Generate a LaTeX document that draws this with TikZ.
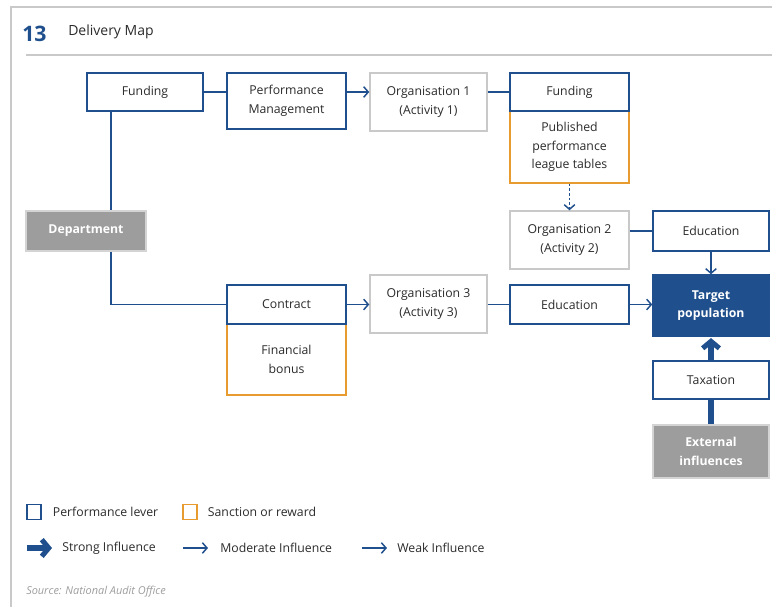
\documentclass[tikz,border=0pt]{standalone}
\usepackage{fontspec}
\setmainfont{Open Sans}
\usetikzlibrary{arrows.meta, calc, positioning}

\definecolor{nao blue}{HTML}{1F4F8C}
\definecolor{nao orange}{HTML}{E89B2E}
\definecolor{nao grey}{HTML}{9D9D9D}
\definecolor{nao line}{HTML}{C9C9C9}
\definecolor{nao text}{HTML}{2B2B2B}

\tikzset{
  wh/.style 2 args={minimum width=#1*0.75pt, minimum height=#2*0.75pt},
  box/.style={draw, inner sep=0pt, align=center, text=nao text, line width=1.1pt},
  lever/.style={box, draw=nao blue, fill=white},
  reward/.style={box, draw=nao orange, fill=white},
  actor/.style={box, draw=nao line, fill=white},
  source/.style={box, draw=nao line!80, fill=nao grey, text=white, font=\fontsize{9.2}{14}\selectfont\bfseries},
  goal/.style={box, draw=nao blue, fill=nao blue, text=white, font=\fontsize{9.2}{14}\selectfont\bfseries},
  link/.style={draw=nao blue, line width=1.1pt},
  moderate/.style={link, -{Straight Barb[length=3.5pt,width=8pt]}},
  weak/.style={link, dashed, dash pattern=on 2pt off 1.5pt, -{Straight Barb[length=3.5pt,width=8pt]}},
  strong/.style={draw=nao blue, line width=3.8pt, -{Straight Barb[length=5.2pt,width=12.5pt]}},
  legtext/.style={anchor=west, inner sep=0pt, text=nao text}
}

\begin{document}
\begin{tikzpicture}[x=0.75pt, y=-0.75pt, font=\fontsize{9.2}{14}\selectfont]
    \useasboundingbox (0,0) rectangle (772,607);
    % frame and title
    \draw[nao line, line width=1.3pt] (11,607) -- (11,7) -- (772,7);
    \draw[nao line, line width=1.1pt] (26,55) -- (772,55);
    \node[anchor=west, inner sep=0pt, text=nao blue, font=\fontsize{16}{18}\selectfont\bfseries] (fignum) at (22,34) {13};
    \node[anchor=west, inner sep=0pt, text=nao text, font=\fontsize{10.5}{12}\selectfont] (figtitle) at (68,32) {Delivery Map};

    % top row
    \node[lever, wh={116}{38}] (fund1) at (145,92) {Funding};
    \node[lever, wh={119}{56}] (perf) at (286.5,101) {Performance\\Management};
    \node[actor, wh={117}{58}] (org1) at (428.5,102) {Organisation 1\\(Activity 1)};
    \node[reward, wh={119}{72}] (pub) at (569.5,147) {Published\\performance\\league tables};
    \node[lever, wh={119}{38}] (fund2) at (569.5,92) {Funding};

    % middle row
    \node[source, wh={120}{40}] (dept) at (86,231) {Department};
    \node[actor, wh={119}{58}] (org2) at (569.5,240) {Organisation 2\\(Activity 2)};
    \node[lever, wh={116}{40}] (edu1) at (711,231) {Education};

    % bottom row
    \node[reward, wh={119}{71}] (bonus) at (286.5,359.5) {Financial\\bonus};
    \node[lever, wh={119}{39}] (contract) at (286.5,304.5) {Contract};
    \node[actor, wh={117}{58}] (org3) at (428.5,304) {Organisation 3\\(Activity 3)};
    \node[lever, wh={119}{39}] (edu2) at (569.5,304.5) {Education};
    \node[goal, wh={116}{61}] (target) at (711,305.5) {Target\\population};
    \node[lever, wh={116}{38}] (tax) at (711,380) {Taxation};
    \node[source, wh={116}{53}] (ext) at (711,451.5) {External\\influences};

    \coordinate (trunk) at (111,0);

    % connectors
    \draw[link] (fund1.east) -- (fund1.east -| perf.west);
    \draw[moderate] (fund1.east -| perf.east) -- (fund1.east -| org1.west);
    \draw[link] (fund1.east -| org1.east) -- (fund2.west);
    \draw[weak] (pub.south) -- (org2.north);
    \draw[link] (edu1.west -| org2.east) -- (edu1.west);
    \draw[moderate] (edu1.south) -- (target.north);
    \draw[link] (fund1.south -| trunk) -- (dept.north -| trunk);
    \draw[link] (dept.south -| trunk) |- (contract.west);
    \draw[moderate] (contract.east) -- (contract.east -| org3.west);
    \draw[link] (edu2.west -| org3.east) -- (edu2.west);
    \draw[moderate] (edu2.east) -- (edu2.east -| target.west);
    \draw[strong, -] (ext.north) -- (tax.south);
    \draw[strong] (tax.north) -- ([yshift=-1pt]target.south);

    % key
    \node[lever, wh={14}{15}, line width=1pt] (keylever) at (34,512) {};
    \node[legtext, right=11*0.75pt of keylever] (keylevertxt) {Performance lever};
    \node[reward, wh={14}{15}, line width=1pt] (keyreward) at (190,512) {};
    \node[legtext, right=10*0.75pt of keyreward] (keyrewardtxt) {Sanction or reward};

    \coordinate (ks0) at (27,548);
    \coordinate (ks1) at (52,548);
    \coordinate (km0) at (183,548);
    \coordinate (km1) at (208,548);
    \coordinate (kw0) at (362,548);
    \coordinate (kw1) at (387,548);
    \draw[strong] (ks0) -- (ks1);
    \draw[moderate] (km0) -- (km1);
    \draw[moderate] (kw0) -- (kw1);
    \node[legtext] (keystrong) at (62,548) {Strong Influence};
    \node[legtext] (keymod) at (220,548) {Moderate Influence};
    \node[legtext] (keyweak) at (397,548) {Weak Influence};

    \node[anchor=west, inner sep=0pt, text=nao grey, font=\fontsize{8.2}{10}\selectfont\itshape] (src) at (26,592) {Source: National Audit Office};
\end{tikzpicture}
\end{document}
